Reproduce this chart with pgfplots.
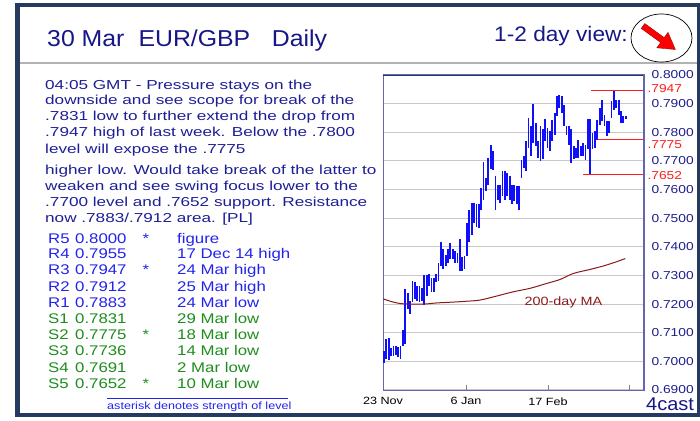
\documentclass[border=0pt]{standalone}
\usepackage{fontspec}
\setmainfont{Liberation Sans}
\newfontfamily\fA{Liberation Sans}[FakeStretch=1.2]
\newfontfamily\fB{Liberation Sans}[FakeStretch=1.32]
\newfontfamily\fT{Liberation Sans}[FakeStretch=1.08]
\usepackage{pgfplots}
\usepackage{pgfplotstable}
\pgfplotsset{compat=1.18}
\newcommand\sz[1]{\fontsize{#1}{#1}\selectfont}

\definecolor{titleblue}{RGB}{22,22,135}
\definecolor{bodyblue}{RGB}{30,30,150}
\definecolor{resblue}{RGB}{35,35,235}
\definecolor{supgreen}{RGB}{30,140,30}
\definecolor{tickblue}{RGB}{30,30,140}
\definecolor{framenavy}{RGB}{38,58,96}
\definecolor{axisslate}{RGB}{100,100,175}
\definecolor{gridgray}{RGB}{200,200,200}
\definecolor{barblue}{RGB}{15,15,250}
\definecolor{mared}{RGB}{140,25,25}
\definecolor{levelred}{RGB}{255,30,30}

% daily high/low bars, 23 Nov to 29 Mar (bar index)
\pgfplotstableread{
i h l
0 0.7037 0.6994
1 0.7078 0.7008
2 0.7080 0.7005
3 0.7045 0.7017
4 0.7055 0.7020
5 0.7055 0.7022
6 0.7049 0.7014
7 0.7055 0.7010
8 0.7110 0.7055
9 0.7252 0.7060
10 0.7238 0.7183
11 0.7212 0.7165
12 0.7281 0.7206
13 0.7276 0.7217
14 0.7264 0.7212
15 0.7264 0.7206
16 0.7255 0.7212
17 0.7301 0.7197
18 0.7301 0.7229
19 0.7305 0.7262
20 0.7290 0.7243
21 0.7290 0.7241
22 0.7305 0.7276
23 0.7345 0.7281
24 0.7417 0.7334
25 0.7392 0.7322
26 0.7371 0.7334
27 0.7394 0.7345
28 0.7413 0.7359
29 0.7392 0.7357
30 0.7386 0.7345
31 0.7380 0.7345
32 0.7427 0.7316
33 0.7366 0.7316
34 0.7369 0.7322
35 0.7485 0.7369
36 0.7528 0.7416
37 0.7553 0.7443
38 0.7553 0.7484
39 0.7548 0.7470
40 0.7551 0.7466
41 0.7606 0.7528
42 0.7695 0.7565
43 0.7641 0.7594
44 0.7710 0.7617
45 0.7755 0.7672
46 0.7734 0.7667
47 0.7649 0.7528
48 0.7617 0.7565
49 0.7617 0.7553
50 0.7664 0.7577
51 0.7666 0.7565
52 0.7658 0.7577
53 0.7647 0.7565
54 0.7617 0.7548
55 0.7617 0.7559
56 0.7612 0.7548
57 0.7614 0.7530
58 0.7705 0.7640
59 0.7716 0.7676
60 0.7769 0.7664
61 0.7850 0.7745
62 0.7821 0.7716
63 0.7900 0.7763
64 0.7833 0.7751
65 0.7769 0.7710
66 0.7821 0.7699
67 0.7812 0.7705
68 0.7847 0.7769
69 0.7815 0.7745
70 0.7803 0.7734
71 0.7844 0.7769
72 0.7867 0.7792
73 0.7928 0.7856
74 0.7931 0.7885
75 0.7928 0.7867
76 0.7897 0.7821
77 0.7821 0.7792
78 0.7821 0.7757
79 0.7812 0.7693
80 0.7751 0.7705
81 0.7745 0.7710
82 0.7774 0.7710
83 0.7751 0.7716
84 0.7763 0.7716
85 0.7757 0.7705
86 0.7847 0.7740
87 0.7847 0.7652
88 0.7798 0.7740
89 0.7803 0.7745
90 0.7844 0.7774
91 0.7885 0.7827
92 0.7914 0.7838
93 0.7862 0.7821
94 0.7838 0.7786
95 0.7838 0.7797
96 0.7908 0.7850
97 0.7949 0.7879
98 0.7914 0.7885
99 0.7914 0.7862
100 0.7873 0.7833
101 0.7856 0.7833
102 0.7856 0.7847
}\bars

% 200-day moving average
\pgfplotstableread{
i v
-0.3 0.7218
3.9 0.7207
8.1 0.7201
16.6 0.7200
22.2 0.7204
29.2 0.7207
34.9 0.7210
40.5 0.7214
47.5 0.7228
54.6 0.7243
61.6 0.7255
68.6 0.7272
74.3 0.7286
79.9 0.7307
86.9 0.7321
92.5 0.7333
98.2 0.7348
99.8 0.7353
101.8 0.7359
}\mavg

\begin{document}
\begin{tikzpicture}
\useasboundingbox (0,0) rectangle (700pt,420pt);

\begin{scope}[x=1pt,y=1pt]
% outer frame and title rule
\draw[framenavy, line width=4.5pt] (17.5,5) rectangle (699,415);
\draw[gray!60, line width=1.4pt] (20,357) -- (697,357);

% header
\node[anchor=base west, inner sep=0, text=titleblue, font=\fT\sz{23}] at (47,373.3) {30 Mar};
\node[anchor=base west, inner sep=0, text=titleblue, font=\fT\sz{23}] at (138.3,373.3) {EUR/GBP};
\node[anchor=base west, inner sep=0, text=titleblue, font=\fT\sz{23}] at (271.7,373.3) {Daily};
\node[anchor=base west, inner sep=0, text=titleblue, font=\fT\sz{21}] at (494,378.3) {1-2 day view:};
\draw[black, line width=0.7pt] (661.5,382) ellipse [x radius=30.5, y radius=24];
\begin{scope}[shift={(643,394)}, rotate=-36]
  \filldraw[fill=red, draw=red!60!black, line width=0.4pt]
    (0,3) -- (24,3) -- (24,9.5) -- (40,0) -- (24,-9.5) -- (24,-3) -- (0,-3) -- cycle;
\end{scope}

% commentary
\begin{scope}[every node/.style={anchor=base west, inner sep=0, text=bodyblue, font=\fB\sz{13}}]
\node at (45,330.7) {04:05 GMT - Pressure stays on the};
\node at (45,315) {downside and see scope for break of the};
\node at (45,299) {.7831 low to further extend the drop from};
\node at (45,283.3) {.7947 high of last week. Below the .7800};
\node at (45,266.7) {level will expose the .7775};
\node at (45,245) {higher low. Would take break of the latter to};
\node at (45,229.3) {weaken and see swing focus lower to the};
\node at (45,213.3) {.7700 level and .7652 support. Resistance};
\node at (45,197.3) {now .7883/.7912 area. [PL]};
\end{scope}

% levels table
\begin{scope}[every node/.style={anchor=base west, inner sep=0, font=\fA\sz{14}}]
\node[text=resblue] at (48,176.7) {R5}; \node[text=resblue] at (75,176.7) {0.8000};
\node[text=resblue, anchor=base] at (146,176.7) {*}; \node[text=resblue] at (177,176.7) {figure};
\node[text=resblue] at (48,161) {R4}; \node[text=resblue] at (75,161) {0.7955};
\node[text=resblue] at (177,161) {17 Dec 14 high};
\node[text=resblue] at (48,145) {R3}; \node[text=resblue] at (75,145) {0.7947};
\node[text=resblue, anchor=base] at (146,145) {*}; \node[text=resblue] at (177,145) {24 Mar high};
\node[text=resblue] at (48,128.3) {R2}; \node[text=resblue] at (75,128.3) {0.7912};
\node[text=resblue] at (177,128.3) {25 Mar high};
\node[text=resblue] at (48,112.3) {R1}; \node[text=resblue] at (75,112.3) {0.7883};
\node[text=resblue] at (177,112.3) {24 Mar low};
\node[text=supgreen] at (48,96.7) {S1}; \node[text=supgreen] at (75,96.7) {0.7831};
\node[text=supgreen] at (177,96.7) {29 Mar low};
\node[text=supgreen] at (48,80.7) {S2}; \node[text=supgreen] at (75,80.7) {0.7775};
\node[text=supgreen, anchor=base] at (146,80.7) {*}; \node[text=supgreen] at (177,80.7) {18 Mar low};
\node[text=supgreen] at (48,64.3) {S3}; \node[text=supgreen] at (75,64.3) {0.7736};
\node[text=supgreen] at (177,64.3) {14 Mar low};
\node[text=supgreen] at (48,47.3) {S4}; \node[text=supgreen] at (75,47.3) {0.7691};
\node[text=supgreen] at (177,47.3) {2 Mar low};
\node[text=supgreen] at (48,31.7) {S5}; \node[text=supgreen] at (75,31.7) {0.7652};
\node[text=supgreen, anchor=base] at (146,31.7) {*}; \node[text=supgreen] at (177,31.7) {10 Mar low};
\end{scope}
\draw[resblue, line width=0.5pt] (107,22) -- (288,22);
\node[anchor=base west, inner sep=0, text=resblue, font=\fA\sz{10.5}] at (107,10.7) {asterisk denotes strength of level};
\node[anchor=base west, inner sep=0, text=titleblue, font=\fT\sz{18.5}] at (646,10) {4cast};
\end{scope}

\begin{axis}[
    at={(383pt,30pt)}, anchor=south west,
    scale only axis, width=261pt, height=315pt,
    xmin=-0.42, xmax=109.7, ymin=0.69, ymax=0.80,
    clip=false,
    axis line style={draw=axisslate, line width=1pt},
    ymajorgrids, grid style={draw=gridgray, line width=1.1pt},
    xtick={-0.42,34.6,69.2,103.4},
    xticklabels={23 Nov,6 Jan,17 Feb,{}},
    ytick={0.69,0.70,0.71,0.72,0.73,0.74,0.75,0.76,0.77,0.78,0.79,0.80},
    yticklabels={0.6900,0.7000,0.7100,0.7200,0.7300,0.7400,0.7500,0.7600,0.7700,0.7800,0.7900,0.8000},
    yticklabel pos=right, ytick pos=right, xtick pos=left,
    tick align=inside, major tick length=5pt,
    xtick style={draw=gray, line width=0.8pt},
    ytick style={draw=none},
    yticklabel style={font=\fA\sz{11.5}, text=tickblue, xshift=4pt},
    xticklabel style={font=\fA\sz{10.5}, text=black, yshift=-4pt},
]
\addplot[draw=none, mark=none, forget plot,
    error bars/.cd, y dir=both, y explicit, error mark=none,
    error bar style={draw=barblue, line width=1.8pt}]
    table[x=i, y expr={(\thisrow{h}+\thisrow{l})/2}, y error expr={(\thisrow{h}-\thisrow{l})/2}] {\bars};
\addplot[mared, line width=1pt, mark=none, smooth] table[x=i, y=v] {\mavg};
\addplot[levelred, line width=1.2pt, mark=none] coordinates {(87.5,0.7947) (109.7,0.7947)};
\addplot[levelred, line width=1.2pt, mark=none] coordinates {(90.3,0.7775) (109.7,0.7775)};
\addplot[levelred, line width=1.2pt, mark=none] coordinates {(84.0,0.7652) (109.7,0.7652)};
\node[anchor=west, text=levelred, font=\fA\sz{11.5}, yshift=1.7pt] at (axis cs:109.7,0.7947) {.7947};
\node[anchor=west, text=levelred, font=\fA\sz{11.5}, yshift=-5.6pt] at (axis cs:109.7,0.7775) {.7775};
\node[anchor=west, text=levelred, font=\fA\sz{11.5}, yshift=-1pt] at (axis cs:109.7,0.7652) {.7652};
\node[anchor=base, text=mared, font=\fA\sz{12}] at (axis cs:75.7,0.7196) {200-day MA};
\draw[framenavy, line width=0.8pt] (rel axis cs:0,1) -- (rel axis cs:1,1);
\draw[axisslate, line width=2.5pt] (rel axis cs:1,0) -- (rel axis cs:1,1);
\end{axis}
\end{tikzpicture}
\end{document}
